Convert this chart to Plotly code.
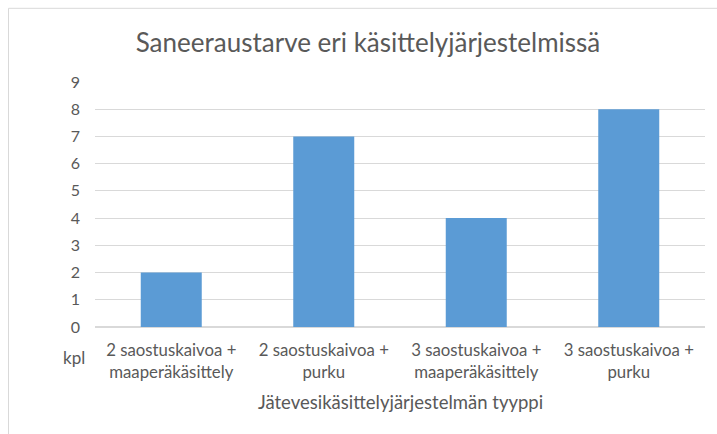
import plotly.graph_objects as go

categories = ["2 saostuskaivoa +<br>maaperäkäsittely", "2 saostuskaivoa +<br>purku",
              "3 saostuskaivoa +<br>maaperäkäsittely", "3 saostuskaivoa +<br>purku"]
values = [2, 7, 4, 8]
y_ticks = list(range(0, 10))
title = "Saneeraustarve eri käsittelyjärjestelmissä"
x_title = "Jätevesikäsittelyjärjestelmän tyyppi"
y_unit = "kpl"

W, H = 717, 434
L, R, T, B = 95, 705, 81.5, 327.5
FONT = "Lato"
TXT = "#595959"

fig = go.Figure(go.Bar(x=categories, y=values, marker=dict(color="#5B9BD5", line=dict(width=0)),
                       hoverinfo="skip"))

def px_x(p):
    return (p - L) / (R - L)

def px_y(p):
    return (B - p) / (B - T)

fig.update_layout(
    width=W, height=H,
    margin=dict(l=L, r=W - R, t=T, b=H - B, pad=0),
    paper_bgcolor="white", plot_bgcolor="white",
    bargap=0.6,
    showlegend=False,
    font=dict(family=FONT, color=TXT, size=16),
    title=dict(text=title, x=px_x(368), xanchor="center", xref="paper", y=1 - 43 / H, yanchor="middle",
               font=dict(family=FONT, size=26, color=TXT)),
    xaxis=dict(showgrid=False, showline=False, ticks="", tickfont=dict(size=16.8, color=TXT),
               ticklabelstandoff=11),
    yaxis=dict(range=[0, 9], tickvals=y_ticks, showgrid=True, gridcolor="#D9D9D9", gridwidth=1,
               zeroline=True, zerolinecolor="#D9D9D9", zerolinewidth=1.5, showline=False, ticks="",
               tickfont=dict(size=16, color=TXT), ticklabelstandoff=14),
    shapes=[dict(type="rect", xref="paper", yref="paper",
                 x0=px_x(8.5), x1=px_x(730), y0=px_y(7.5), y1=px_y(450),
                 line=dict(color="#D9D9D9", width=1), fillcolor="rgba(0,0,0,0)", layer="below")],
    annotations=[
        dict(text=y_unit, xref="paper", yref="paper", x=px_x(74), y=px_y(358), showarrow=False,
             xanchor="center", yanchor="middle", font=dict(size=17, color=TXT)),
        dict(text=x_title, xref="paper", yref="paper", x=px_x(400), y=px_y(403), showarrow=False,
             xanchor="center", yanchor="middle", font=dict(size=18.5, color=TXT)),
    ],
)

fig.write_html("out.html", config={"displayModeBar": False},
               post_script="document.body.style.margin='0';document.body.style.padding='0';")
